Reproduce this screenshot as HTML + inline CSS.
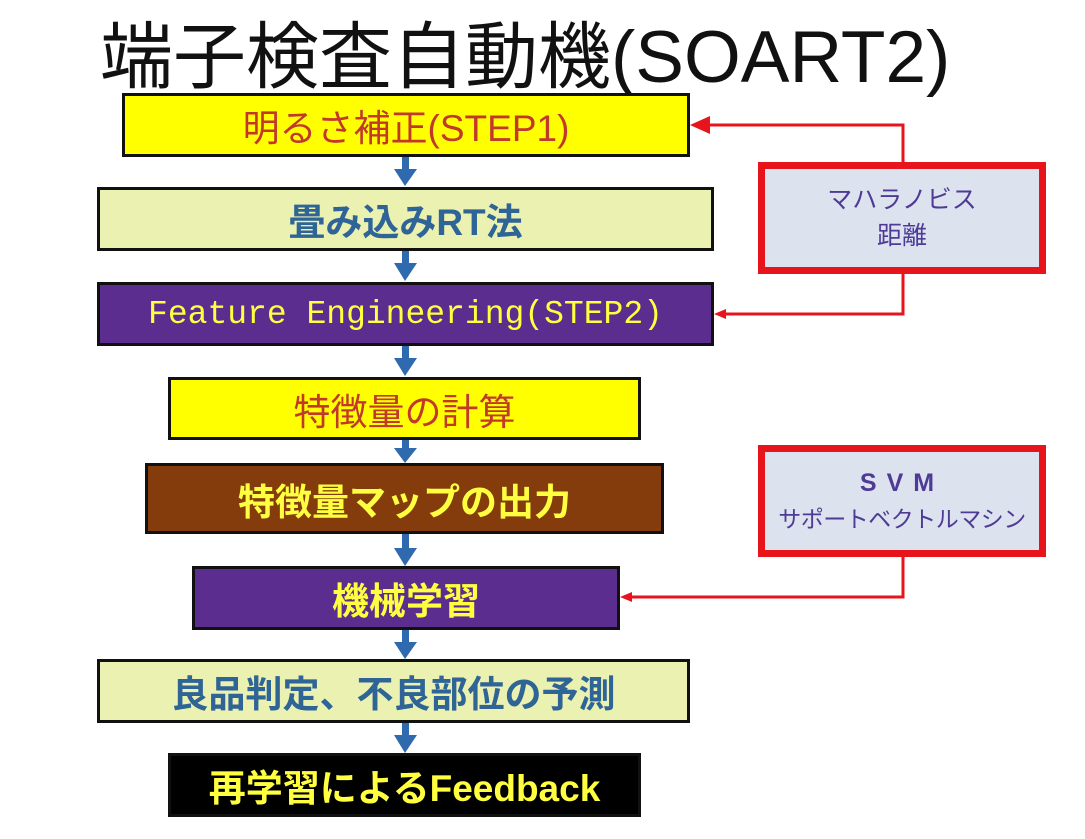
<!DOCTYPE html>
<html><head><meta charset="utf-8"><style>
body{margin:0;width:1085px;height:839px;background:#fff;position:relative;overflow:hidden;font-family:"Liberation Sans","Noto Sans CJK JP",sans-serif}
.b{position:absolute;box-sizing:border-box;border:3px solid #111;display:flex;align-items:center;justify-content:center;font-size:37px;white-space:nowrap;font-family:"Liberation Sans Narrow","Liberation Sans","Noto Sans CJK JP",sans-serif}
.t{position:absolute;left:100px;top:12px;font-size:73px;line-height:92px;color:#111;font-family:"Liberation Sans","Noto Sans CJK JP",sans-serif;white-space:nowrap}
.r{position:absolute;box-sizing:border-box;border:7px solid #e8141c;background:#dce3ee;color:#4f3a96;font-size:25px;text-align:center;display:flex;flex-direction:column;align-items:center;justify-content:center;line-height:36px;white-space:nowrap}
</style></head><body>
<div class="t">端子検査自動機(SOART2)</div>
<svg width="1085" height="839" style="position:absolute;left:0;top:0">
<g fill="#2e6aad">
<rect x="402" y="157" width="7" height="14"/><polygon points="394,169 417,169 405,186"/>
<rect x="402" y="251" width="7" height="14"/><polygon points="394,263 417,263 405,281"/>
<rect x="402" y="346" width="7" height="14"/><polygon points="394,358 417,358 405,376"/>
<rect x="402" y="440" width="7" height="10"/><polygon points="394,448 417,448 405,463"/>
<rect x="402" y="534" width="7" height="16"/><polygon points="394,548 417,548 405,566"/>
<rect x="402" y="630" width="7" height="14"/><polygon points="394,642 417,642 405,659"/>
<rect x="402" y="723" width="7" height="14"/><polygon points="394,735 417,735 405,753"/>
</g>
<g stroke="#e8141c" stroke-width="3" fill="none">
<polyline points="903,162 903,125 705,125"/>
<polyline points="903,274 903,314 722,314"/>
<polyline points="903,557 903,597 628,597"/>
</g>
<g fill="#e8141c">
<polygon points="690,125 710,116 710,134"/>
<polygon points="714,314 726,309 726,319"/>
<polygon points="620,597 632,592 632,602"/>
</g>
</svg>
<div class="b" style="left:122px;top:93px;width:568px;height:64px;background:#ffff00;color:#c0392b">明るさ補正(STEP1)</div>
<div class="b" style="left:97px;top:187px;width:617px;height:64px;background:#ebf1b0;color:#2e6496;font-weight:bold">畳み込みRT法</div>
<div class="b" style="left:97px;top:282px;width:617px;height:64px;background:#5b2d8e;color:#ffff40;font-family:'Liberation Mono',monospace;font-size:33px">Feature Engineering(STEP2)</div>
<div class="b" style="left:168px;top:377px;width:473px;height:63px;background:#ffff00;color:#c0392b">特徴量の計算</div>
<div class="b" style="left:145px;top:463px;width:519px;height:71px;background:#843c0c;color:#ffff40;font-weight:bold">特徴量マップの出力</div>
<div class="b" style="left:192px;top:566px;width:428px;height:64px;background:#5b2d8e;color:#ffff40;font-weight:bold">機械学習</div>
<div class="b" style="left:97px;top:659px;width:593px;height:64px;background:#ebf1b0;color:#2e6496;font-weight:bold">良品判定、不良部位の予測</div>
<div class="b" style="left:168px;top:753px;width:473px;height:64px;background:#000;color:#ffff40;font-weight:bold">再学習によるFeedback</div>
<div class="r" style="left:758px;top:162px;width:288px;height:112px"><div>マハラノビス</div><div>距離</div></div>
<div class="r" style="left:758px;top:445px;width:288px;height:112px"><div style="font-weight:bold;letter-spacing:10px">SVM</div><div style="font-size:23px;letter-spacing:-0.5px">サポートベクトルマシン</div></div>
</body></html>
